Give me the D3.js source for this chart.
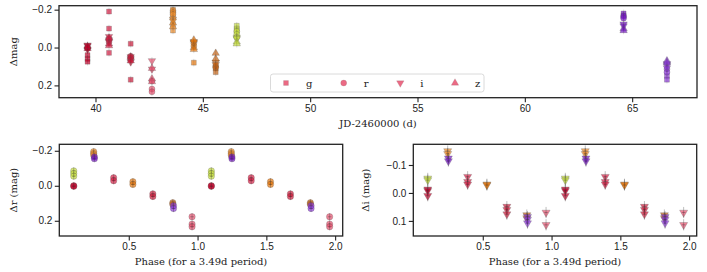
<!DOCTYPE html>
<html>
<head>
<meta charset="utf-8">
<script src="https://cdn.jsdelivr.net/npm/d3@7"></script>
<style>
  body { margin: 0; background: #fff; }
  svg { display: block; font-family: "DejaVu Serif", serif; }
  .tick text { font-size: 10px; fill: #222; }
  .tick line { stroke: #222; }
  .lbl { font-size: 10px; fill: #222; }
</style>
</head>
<body>
<div id="chart"></div>
<script>
// one entry per night of observations
const epochJD    = [39.63, 40.63, 41.64, 42.63, 43.61, 44.58, 45.60, 46.58, 64.60, 66.62];
const epochPhase = [0.10, 0.39, 0.675, 0.96, 0.245, 0.53, 0.82, 0.10, 0.25, 0.825];
const epochColor = ["#c4002a", "#d81e44", "#d01a3a", "#e8506e", "#f08c28",
                    "#e8780c", "#c86414", "#c8e040", "#7818c8", "#8c38d8"];

// magnitudes per band, one list per night
const gMag = [[0.04, 0.06, 0.075], [-0.19, -0.10, 0.028], [-0.02, 0.17], [],
              [-0.2, -0.16, -0.12, -0.09], [0.08], [0.11, 0.13], [-0.115, -0.10, -0.09],
              [-0.18, -0.17], [0.15, 0.17]];
const rMag = [[0.0, 0.003], [-0.046, -0.029], [0.046, 0.061], [0.177, 0.219, 0.234],
              [-0.195, -0.185, -0.175], [-0.023, -0.008], [0.097, 0.105], [-0.085, -0.07, -0.055],
              [-0.165, -0.155], [0.114, 0.13]];
const iMag = [[-0.013, -0.008, 0.01], [-0.058, -0.04, -0.031], [0.049, 0.06, 0.076], [0.07, 0.114],
              [-0.15, -0.14], [-0.031, -0.028], [0.079, 0.09], [-0.052, -0.046],
              [-0.124, -0.114], [0.085, 0.095, 0.108]];
const zMag = [[0.005, -0.005], [-0.05, -0.02, -0.01], [0.05, 0.07], [0.11, 0.165, 0.18],
              [-0.13, -0.11], [-0.04, 0.0, 0.01], [0.03, 0.06], [-0.03, -0.02],
              [-0.1, -0.09], [0.07, 0.08]];

const bandNames = ["g", "r", "i", "z"];
const magErr = 0.02;

const W = 707, H = 272;
const svg = d3.select("#chart").append("svg").attr("width", W).attr("height", H);

const shapes = {
    g: d3.symbol().type(d3.symbolSquare).size(24),
    r: d3.symbol().type(d3.symbolCircle).size(28),
    i: d3.symbol().type(d3.symbolTriangle).size(24),
    z: d3.symbol().type(d3.symbolTriangle).size(24)
};
const rot = b => b === "i" ? " rotate(180)" : "";

function flatten(mags, band) {
    const out = [];
    mags.forEach((list, e) => list.forEach(m => out.push({ e, m, band })));
    return out;
}

function drawPanel(box, xDom, yDom, xTicks, yTicks, xFmt, yFmt, xLabel, yLabel, yLabelX) {
    const x = d3.scaleLinear().domain(xDom).range([box.x0, box.x1]);
    const y = d3.scaleLinear().domain(yDom).range([box.y0, box.y1]);
    const g = svg.append("g");

    g.append("g").attr("transform", `translate(0,${box.y1})`)
        .call(d3.axisBottom(x).tickValues(xTicks).tickFormat(xFmt).tickSize(4.5).tickPadding(2.5))
        .call(a => a.select(".domain").remove());
    g.append("g").attr("transform", `translate(${box.x0},0)`)
        .call(d3.axisLeft(y).tickValues(yTicks).tickFormat(yFmt).tickSize(4.5).tickPadding(2.5))
        .call(a => a.select(".domain").remove());
    g.selectAll(".tick line").attr("stroke-width", 1.1);

    g.append("text").attr("class", "lbl")
        .attr("x", (box.x0 + box.x1) / 2).attr("y", box.y1 + 29)
        .attr("text-anchor", "middle").text(xLabel);
    g.append("text").attr("class", "lbl")
        .attr("transform", `translate(${yLabelX},${(box.y0 + box.y1) / 2}) rotate(-90)`)
        .attr("text-anchor", "middle").text(yLabel);

    const plot = g.append("g");
    g.append("rect")
        .attr("x", box.x0).attr("y", box.y0)
        .attr("width", box.x1 - box.x0).attr("height", box.y1 - box.y0)
        .attr("fill", "none").attr("stroke", "#222").attr("stroke-width", 1.3);
    return { x, y, plot };
}

// opts.size: symbol area override (phase panels), opts.cross: draw the small horizontal tick
function drawPoints(p, pts, xOf, opts) {
    const sel = p.plot.append("g").selectAll("g").data(pts).enter().append("g")
        .attr("transform", d => `translate(${p.x(xOf(d))},${p.y(d.m)})`);
    sel.append("path")
        .attr("d", d => (opts.size ? d3.symbol().type(d.band === "r" ? d3.symbolCircle : d3.symbolTriangle).size(opts.size)() : shapes[d.band]()))
        .attr("transform", d => rot(d.band).trim())
        .attr("fill", d => epochColor[d.e]).attr("fill-opacity", 0.7)
        .attr("stroke", "#555").attr("stroke-opacity", 0.45).attr("stroke-width", 0.6);
    // error bars
    sel.append("line")
        .attr("x1", 0).attr("x2", 0)
        .attr("y1", d => p.y(d.m - magErr) - p.y(d.m)).attr("y2", d => p.y(d.m + magErr) - p.y(d.m))
        .attr("stroke", "#333").attr("stroke-opacity", opts.errOp).attr("stroke-width", 0.8);
    if (opts.cross) {
        sel.append("line")
            .attr("x1", -1.8).attr("x2", 1.8).attr("y1", 0).attr("y2", 0)
            .attr("stroke", "#222").attr("stroke-opacity", 0.45).attr("stroke-width", 0.7);
    }
}

const fmt1 = d3.format(".1f");

// top: light curve vs time
const timePanel = drawPanel({ x0: 59, x1: 697, y0: 5.7, y1: 97.7 },
    [38.3, 68.02], [-0.221, 0.265], [40, 45, 50, 55, 60, 65], [-0.2, 0, 0.2],
    d3.format("d"), fmt1, "JD-2460000 (d)", "\u0394mag", 17);

const allPts = [].concat(flatten(gMag, "g"), flatten(rMag, "r"), flatten(iMag, "i"), flatten(zMag, "z"));
drawPoints(timePanel, allPts, d => epochJD[d.e], { errOp: 0.2, cross: false });

// legend
const leg = timePanel.plot.append("g");
leg.append("rect").attr("x", 270.5).attr("y", 74).attr("width", 213.5).attr("height", 18)
    .attr("rx", 2.5).attr("fill", "#fff").attr("fill-opacity", 0.85)
    .attr("stroke", "#d0d0d0").attr("stroke-width", 0.8);
const legX = [286, 343.7, 400.3, 455];
bandNames.forEach((b, k) => {
    leg.append("path").attr("d", shapes[b]())
        .attr("transform", `translate(${legX[k]},83)${rot(b)}`)
        .attr("fill", "#e8506e").attr("fill-opacity", 0.85)
        .attr("stroke", "#555").attr("stroke-opacity", 0.3).attr("stroke-width", 0.5);
    leg.append("text").attr("class", "lbl").attr("x", legX[k] + 20).attr("y", 86.5).text(b);
});

// bottom: phase-folded r and i
const phaseLabel = "Phase (for a 3.49d period)";
const leftPanel = drawPanel({ x0: 59.3, x1: 342.7, y0: 144.3, y1: 236 },
    [-0.005, 2.055], [-0.237, 0.287], [0.5, 1.0, 1.5, 2.0], [-0.2, 0, 0.2],
    fmt1, fmt1, phaseLabel, "\u0394r (mag)", 17);
const rightPanel = drawPanel({ x0: 413.3, x1: 696.7, y0: 144.3, y1: 236 },
    [-0.005, 2.055], [-0.174, 0.154], [0.5, 1.0, 1.5, 2.0], [-0.1, 0, 0.1],
    fmt1, fmt1, phaseLabel, "\u0394i (mag)", 369);

[0, 1].forEach(cycle => {
    drawPoints(leftPanel, flatten(rMag, "r"), d => epochPhase[d.e] + cycle, { size: 32, errOp: 0.4, cross: true });
    drawPoints(rightPanel, flatten(iMag, "i"), d => epochPhase[d.e] + cycle, { size: 28, errOp: 0.4, cross: true });
});
</script>
</body>
</html>
